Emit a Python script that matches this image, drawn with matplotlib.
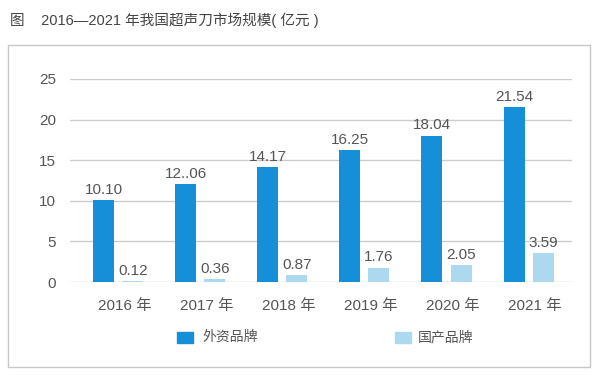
import numpy as np
import matplotlib
matplotlib.use("Agg")
import matplotlib.pyplot as plt
from matplotlib.patches import Rectangle

plt.rcParams['font.family'] = ['Liberation Sans', 'Noto Sans CJK SC', 'DejaVu Sans']

years = ["2016 年", "2017 年", "2018 年", "2019 年", "2020 年", "2021 年"]
foreign = [10.10, 12.06, 14.17, 16.25, 18.04, 21.54]
domestic = [0.12, 0.36, 0.87, 1.76, 2.05, 3.59]
foreign_labels = ["10.10", "12..06", "14.17", "16.25", "18.04", "21.54"]
domestic_labels = ["0.12", "0.36", "0.87", "1.76", "2.05", "3.59"]

c_dark = "#1590d8"
c_light = "#acd9f0"
txt = "#555555"

fig = plt.figure(figsize=(6, 3.75), dpi=100)
ax = fig.add_axes([70 / 600, 1 - 282 / 375, (572 - 70) / 600, (282 - 79) / 375])

x = np.arange(len(years))
w = 0.256
off = 0.177
ax.bar(x - off, foreign, w, color=c_dark, zorder=3)
ax.bar(x + off, domestic, w, color=c_light, zorder=3)

for xi, v, s in zip(x, foreign, foreign_labels):
    ax.text(xi - off, v + 0.4, s, ha="center", va="bottom", fontsize=11, color=txt)
for xi, v, s in zip(x, domestic, domestic_labels):
    ax.text(xi + off, v + 0.4, s, ha="center", va="bottom", fontsize=11, color=txt)

ax.set_xlim(-0.59, 5.53)
ax.set_ylim(0, 25)
ax.set_yticks([0, 5, 10, 15, 20, 25])
ax.yaxis.grid(True, color="#cccccc", lw=1, zorder=0)
ax.set_xticks(x + 0.08)
ax.set_xticklabels(years)
ax.tick_params(axis="both", length=0, labelsize=11, labelcolor=txt)
ax.tick_params(axis="y", pad=10)
ax.tick_params(axis="x", pad=12)
for sp in ax.spines.values():
    sp.set_visible(False)

# outer frame
fig.add_artist(Rectangle((8 / 600, 1 - 367 / 375), (590 - 8) / 600, (367 - 45) / 375,
                         transform=fig.transFigure, fill=False, ec="#c8c8c8", lw=1))

fig.text(10 / 600, 1 - 20 / 375, "图    2016—2021 年我国超声刀市场规模( 亿元 )",
         fontsize=10.5, color="#444444", va="center")

# legend
fig.add_artist(Rectangle((177 / 600, 1 - 343 / 375), 16 / 600, 11 / 375,
                         transform=fig.transFigure, color=c_dark))
fig.text(202 / 600, 1 - 337 / 375, "外资品牌", fontsize=10, color=txt, va="center")
fig.add_artist(Rectangle((395 / 600, 1 - 343 / 375), 16 / 600, 11 / 375,
                         transform=fig.transFigure, color=c_light))
fig.text(418 / 600, 1 - 337 / 375, "国产品牌", fontsize=10, color=txt, va="center")

fig.savefig("out.png", dpi=100)
